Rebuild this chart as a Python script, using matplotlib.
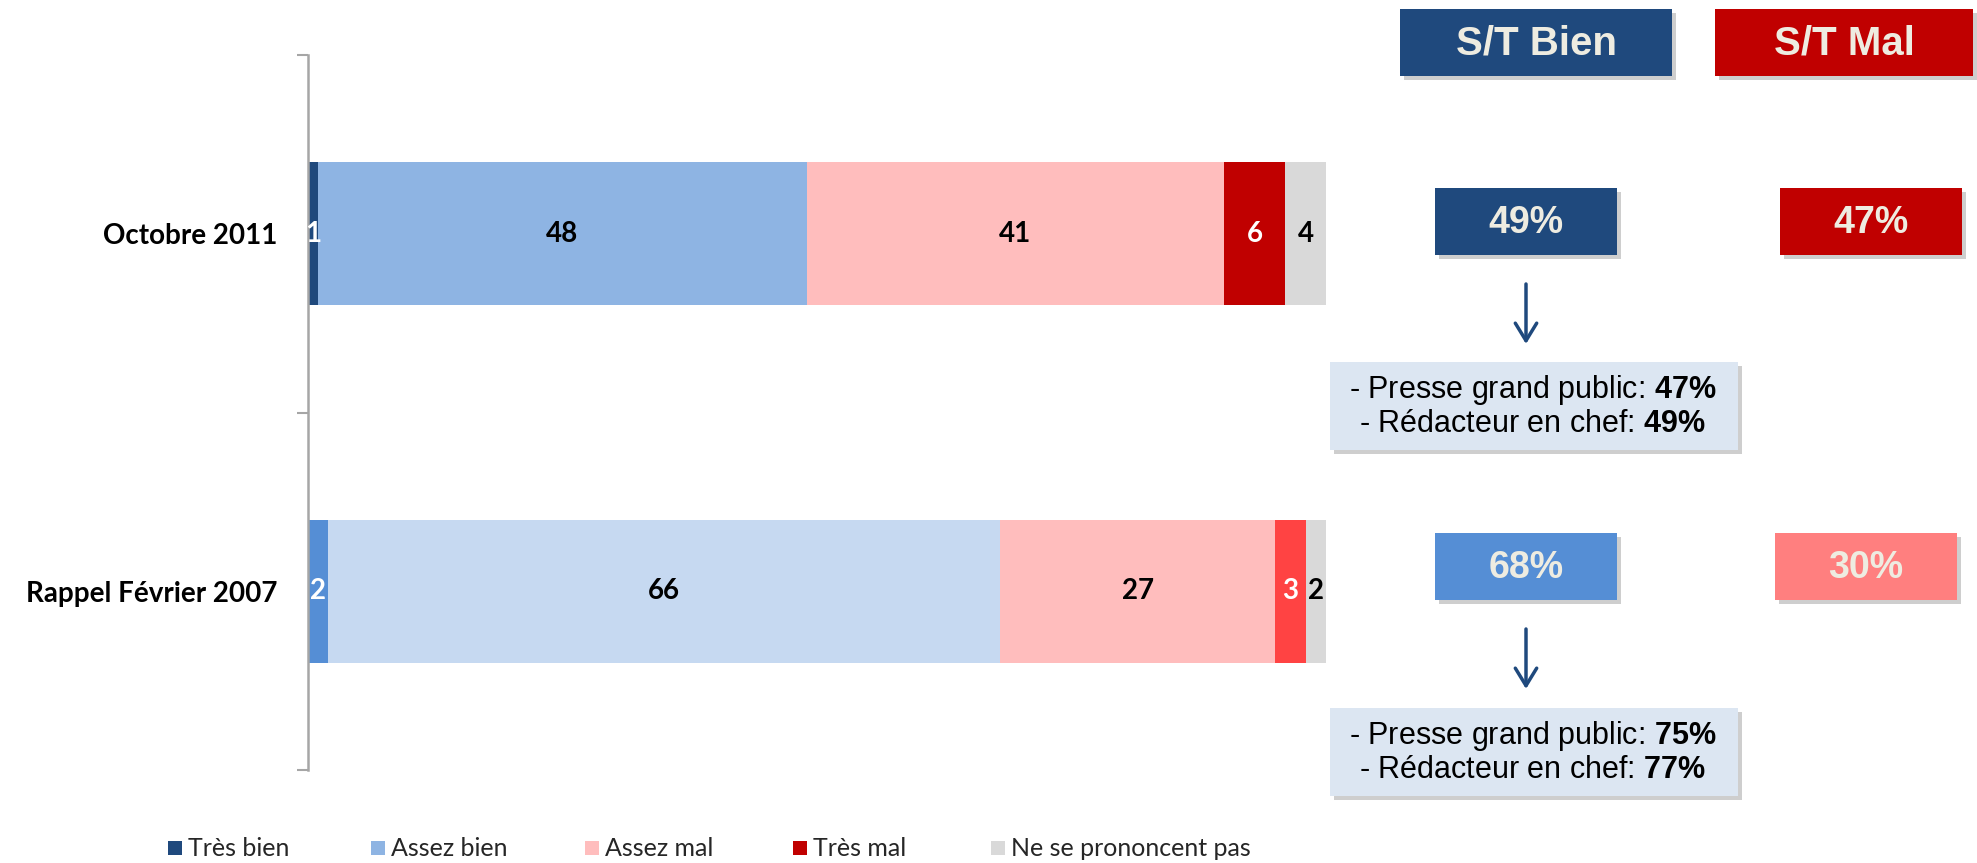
import numpy as np
import matplotlib
matplotlib.use("Agg")
import matplotlib.pyplot as plt
import matplotlib.patheffects as pe
from matplotlib.patches import Rectangle

plt.rcParams["mathtext.fontset"] = "custom"
plt.rcParams["mathtext.rm"] = "Liberation Sans"
plt.rcParams["mathtext.bf"] = "Liberation Sans:bold"
plt.rcParams["mathtext.it"] = "Liberation Sans:italic"

# data
periods = ["Octobre 2011", "Rappel Février 2007"]
categories = ["Très bien", "Assez bien", "Assez mal", "Très mal", "Ne se prononcent pas"]
tres_bien = [1, 2]
assez_bien = [48, 66]
assez_mal = [41, 27]
tres_mal = [6, 3]
nsp = [4, 2]
st_bien = [49, 68]
st_mal = [47, 30]
presse_gp = [47, 75]
redac_chef = [49, 77]

# styles
colors_2011 = ["#1F497D", "#8EB4E3", "#FFBDBD", "#C00000", "#D9D9D9"]
colors_2007 = ["#558ED5", "#C6D9F1", "#FFBDBD", "#FF4343", "#D9D9D9"]
label_colors = ["white", "black", "black", "white", "black"]
bien_box_colors = ["#1F497D", "#558ED5"]
mal_box_colors = ["#C00000", "#FF7F7F"]
box_text = "#EEECE1"
calibri = ["Lato", "DejaVu Sans"]
arial = ["Liberation Sans", "DejaVu Sans"]

W, H = 1977, 863
fig = plt.figure(figsize=(W / 100, H / 100), dpi=100)

# overlay in pixel coords (top-left origin) for the side panel and legend
ov = fig.add_axes([0, 0, 1, 1])
ov.set_xlim(0, W)
ov.set_ylim(H, 0)
ov.axis("off")

# main stacked bars
ax = fig.add_axes([308 / W, (H - 770) / H, (1326 - 308) / W, (770 - 55) / H])
series = [tres_bien, assez_bien, assez_mal, tres_mal, nsp]
ypos = np.arange(len(periods))
left = np.zeros(len(periods))
for i, (name, vals) in enumerate(zip(categories, series)):
    cols = [colors_2011[i], colors_2007[i]]
    bars = ax.barh(ypos, vals, left=left, height=0.40, color=cols, label=name)
    ax.bar_label(bars, labels=[str(v) for v in vals], label_type="center",
                 color=label_colors[i], fontweight="bold", fontsize=20,
                 family=calibri)
    left += np.array(vals)

ax.set_xlim(0, 100)
ax.set_ylim(1.5, -0.5)
ax.set_xticks([])
ax.set_yticks(ypos)
ax.set_yticklabels(periods, fontsize=20, fontweight="bold", family=calibri)
ax.tick_params(axis="y", which="major", length=0, pad=22)
ax.set_yticks([-0.5, 0.5, 1.5], minor=True)
ax.tick_params(axis="y", which="minor", length=8, width=1.5, color="#A6A6A6")
for s in ["top", "right", "bottom"]:
    ax.spines[s].set_visible(False)
ax.spines["left"].set_color("#A6A6A6")
ax.spines["left"].set_linewidth(1.8)
ax.patch.set_alpha(0)

shadow = [pe.withSimplePatchShadow(offset=(3, -3), shadow_rgbFace="0.45", alpha=0.35)]


def box(x0, y0, x1, y1, fc, text, size, color=box_text):
    r = Rectangle((x0, y0), x1 - x0, y1 - y0, facecolor=fc, edgecolor="none",
                  path_effects=shadow)
    ov.add_patch(r)
    ov.text((x0 + x1) / 2, (y0 + y1) / 2 + 1, text, ha="center", va="center",
            fontsize=size, fontweight="bold", color=color, family=arial)


# header boxes
box(1400, 9, 1672, 76, "#1F497D", "S/T Bien", 29)
box(1715, 9, 1973, 76, "#C00000", "S/T Mal", 29)

# totals per period
row_top = [188, 533]
detail_top = [362, 708]
for k in range(len(periods)):
    y0 = row_top[k]
    box(1435, y0, 1617, y0 + 67, bien_box_colors[k], f"{st_bien[k]}%", 27)
    mx0 = 1780 if k == 0 else 1775
    box(mx0, y0, mx0 + 182, y0 + 67, mal_box_colors[k], f"{st_mal[k]}%", 27)
    # arrow
    ay = y0 + 96
    ov.annotate("", xy=(1526, ay + 60), xytext=(1526, ay),
                arrowprops=dict(arrowstyle="->,head_length=0.9,head_width=0.55",
                                color="#1F497D", lw=2.5, mutation_scale=14,
                                shrinkA=0, shrinkB=0))
    # detail box
    ty0 = detail_top[k]
    r = Rectangle((1330, ty0), 408, 88, facecolor="#DCE6F2", edgecolor="none",
                  path_effects=shadow)
    ov.add_patch(r)
    ov.text(1533, ty0 + 28, rf"- Presse grand public: $\mathbf{{{presse_gp[k]}\%}}$",
            ha="center", va="center", fontsize=22, family=arial, color="black")
    ov.text(1533, ty0 + 62, rf"- Rédacteur en chef: $\mathbf{{{redac_chef[k]}\%}}$",
            ha="center", va="center", fontsize=22, family=arial, color="black")

# legend
leg_x = [168, 371, 585, 793, 991]
for i, name in enumerate(categories):
    ov.add_patch(Rectangle((leg_x[i], 841), 14, 14, facecolor=colors_2011[i],
                           edgecolor="none"))
    ov.text(leg_x[i] + 20, 848, name, ha="left", va="center", fontsize=18,
            family=calibri, color="#262626")

fig.savefig("out.png", dpi=100)
